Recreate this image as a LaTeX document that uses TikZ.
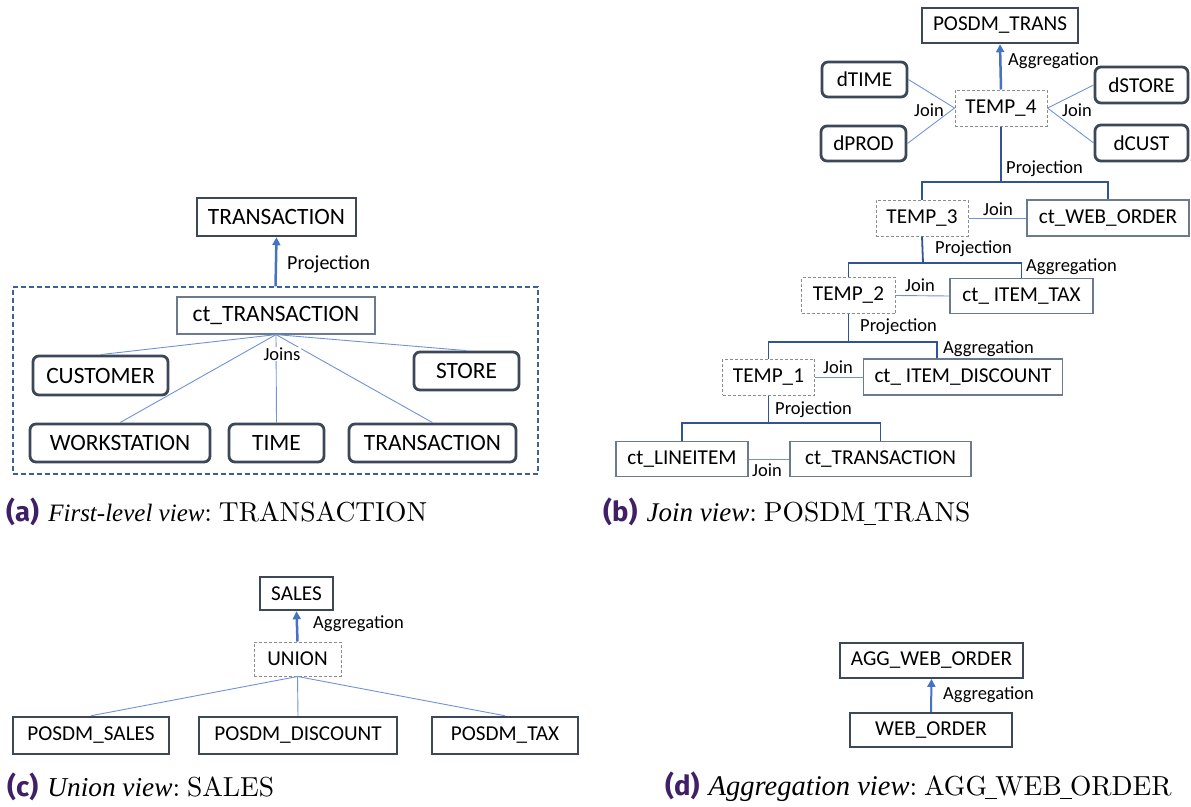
\documentclass[tikz,border=0pt]{standalone}
\usepackage{fontspec}
\newfontfamily\nodefont{Carlito}
\newfontfamily\capsans{Fira Sans}
\newfontfamily\capital{Liberation Serif}
\newfontfamily\capserif[Extension=.otf]{lmroman10-regular}
\usetikzlibrary{arrows.meta}
\definecolor{dk}{HTML}{3C4858}
\definecolor{gr}{HTML}{6B7A8F}
\definecolor{dg}{HTML}{8C8C8C}
\definecolor{ablue}{HTML}{4472C4}
\definecolor{jblue}{HTML}{6F93D6}
\definecolor{pblue}{HTML}{2F5597}
\definecolor{fblue}{HTML}{3F5F9A}
\definecolor{capp}{HTML}{3F1F66}
\tikzset{
 base/.style={draw, inner sep=0pt, text=black, font=\nodefont\fontsize{21.2}{25}\selectfont},
 bigtext/.style={font=\nodefont\fontsize{23.4}{28}\selectfont},
 sharpbox/.style={base, draw=dk, line width=2.5pt},
 roundbox/.style={base, draw=dk, line width=2.8pt, rounded corners=6pt},
 medbox/.style={base, draw=dk, line width=1.8pt},
 thinbox/.style={base, draw=gr, line width=1.2pt},
 dashbox/.style={base, draw=dg, line width=1pt, dash pattern=on 3pt off 2pt},
 lbl/.style={inner sep=0pt, text=black, font=\nodefont\fontsize{18.5}{22}\selectfont},
 arr/.style={-{Triangle[length=8pt,width=8pt]}, line width=2.5pt, draw=ablue},
 jn/.style={draw=jblue, line width=0.9pt},
 pj/.style={draw=pblue, line width=1.8pt},
 capstyle/.style={anchor=west, inner sep=0pt, font=\capserif\fontsize{27.5}{32}\selectfont},
}
\newcommand{\capl}[1]{{\capsans\bfseries\color{capp}(#1)}}
\newcommand{\capit}[2]{{\capital\itshape\fontsize{#1}{32}\selectfont #2}:\hspace{0.25em}}
\newcommand{\cu}{\makebox[0.3em][c]{\rule[-0.12em]{0.44em}{0.04em}}}
\begin{document}
\begin{tikzpicture}[x=1pt,y=-1pt]
\useasboundingbox (0,0) rectangle (1191,806);

% ---------------- (a) ----------------
\node[sharpbox, bigtext, minimum width=159pt, minimum height=38pt] (aT) at (276.5,217) {TRANSACTION};
\node[base, draw=fblue, line width=1.2pt, dash pattern=on 5pt off 3pt, minimum width=525pt, minimum height=187pt] (aF) at (275.5,380.5) {};
\draw[arr] (aF.north) -- (aT.south);
\node[lbl, anchor=west, font=\nodefont\fontsize{20}{24}\selectfont] (aP) at (287,264) {Projection};
\node[thinbox, bigtext, minimum width=198pt, minimum height=37pt] (actT) at (276,315.5) {ct\_TRANSACTION};
\node[roundbox, bigtext, minimum width=135pt, minimum height=39pt] (aCu) at (100.5,375.5) {CUSTOMER};
\node[roundbox, bigtext, minimum width=105pt, minimum height=38pt] (aSt) at (466.5,371) {STORE};
\node[roundbox, bigtext, minimum width=180pt, minimum height=38pt] (aWo) at (120,443) {WORKSTATION};
\node[roundbox, bigtext, minimum width=95pt, minimum height=38pt] (aTi) at (276.5,443) {TIME};
\node[roundbox, bigtext, minimum width=167pt, minimum height=38pt] (aTr) at (432.5,443) {TRANSACTION};
\foreach \n in {aCu,aSt,aWo,aTi,aTr} \draw[jn] (actT.south) -- (\n.north);
\node[lbl, fill=white, inner sep=1pt] (aJ) at (282,354) {Joins};

% ---------------- (b) ----------------
\node[sharpbox, minimum width=156pt, minimum height=35pt] (bPT) at (1000,25.5) {POSDM\_TRANS};
\node[dashbox, minimum width=92pt, minimum height=36pt] (bT4) at (1001,108) {TEMP\_4};
\draw[arr] (bT4.north) -- (bPT.south);
\node[lbl, anchor=west] (bA1) at (1008,61) {Aggregation};
\node[roundbox, minimum width=85pt, minimum height=35pt] (bdT) at (864.5,79.5) {dTIME};
\node[roundbox, minimum width=85pt, minimum height=35pt] (bdP) at (863.5,143.5) {dPROD};
\node[roundbox, minimum width=93pt, minimum height=36pt] (bdS) at (1141.5,85) {dSTORE};
\node[roundbox, minimum width=93pt, minimum height=36pt] (bdC) at (1141.5,143) {dCUST};
\draw[jn] (bdT.east) -- (bT4.west);
\draw[jn] (bdP.east) -- (bT4.west);
\draw[jn] (bdS.west) -- (bT4.east);
\draw[jn] (bdC.west) -- (bT4.east);
\node[lbl] (bJ1) at (929,110) {Join};
\node[lbl] (bJ2) at (1077,110) {Join};

\node[dashbox, minimum width=92pt, minimum height=36pt] (bT3) at (922,218) {TEMP\_3};
\node[thinbox, minimum width=162pt, minimum height=36pt] (bWO) at (1108,218) {ct\_WEB\_ORDER};
\coordinate (bb1) at (1001,182);
\draw[pj] (bT4.south) -- (bb1);
\draw[pj] (bT3.north) |- (bWO.north |- bb1) -- (bWO.north);
\node[lbl, anchor=west] (bP1) at (1006,169) {Projection};
\draw[jn] (bT3.east) -- (bWO.west);
\node[lbl] (bJ3) at (998,209) {Join};

\node[dashbox, minimum width=94pt, minimum height=36pt] (bT2) at (848.5,295.5) {TEMP\_2};
\node[thinbox, minimum width=143pt, minimum height=35pt] (bTX) at (1021.5,296) {ct\_ ITEM\_TAX};
\coordinate (bb2) at (923,263);
\draw[pj] (bT3.south) -- (bb2);
\draw[pj] (bT2.north) |- (bTX.north |- bb2) -- (bTX.north);
\node[lbl, anchor=west] (bP2) at (935,249) {Projection};
\node[lbl, anchor=west] (bA2) at (1026,267) {Aggregation};
\draw[jn] (bT2.east) -- (bTX.west);
\node[lbl] (bJ4) at (920,285) {Join};

\node[dashbox, minimum width=92pt, minimum height=36pt] (bT1) at (768.5,377) {TEMP\_1};
\node[thinbox, minimum width=199pt, minimum height=36pt] (bDI) at (963,377) {ct\_ ITEM\_DISCOUNT};
\coordinate (bb3) at (848.5,342);
\coordinate (bDIin) at ([xshift=-26pt]bDI.north);
\draw[pj] (bT2.south) -- (bb3);
\draw[pj] (bT1.north) |- (bDIin |- bb3) -- (bDIin);
\node[lbl, anchor=west] (bP3) at (860,327) {Projection};
\node[lbl, anchor=west] (bA3) at (943,349) {Aggregation};
\draw[jn] (bT1.east) -- (bDI.west);
\node[lbl] (bJ5) at (838,367) {Join};

\node[thinbox, minimum width=132pt, minimum height=35pt] (bLI) at (682,459) {ct\_LINEITEM};
\node[thinbox, minimum width=181pt, minimum height=35pt] (bTR) at (880.5,459) {ct\_TRANSACTION};
\coordinate (bb4) at (768.5,423);
\draw[pj] (bT1.south) -- (bb4);
\draw[pj] (bLI.north) |- (bTR.north |- bb4) -- (bTR.north);
\node[lbl, anchor=west] (bP4) at (775,410) {Projection};
\draw[jn] (bLI.east) -- (bTR.west);
\node[lbl] (bJ6) at (767,470) {Join};

% ---------------- (c) ----------------
\node[sharpbox, minimum width=73pt, minimum height=33pt] (cS) at (296.5,593.5) {SALES};
\node[dashbox, minimum width=87pt, minimum height=34pt] (cU) at (297.5,659) {UNION};
\draw[arr] (cU.north) -- (cS.south);
\node[lbl, anchor=west] (cA) at (313,624) {Aggregation};
\node[sharpbox, minimum width=156pt, minimum height=37pt] (cPS) at (91,735.5) {POSDM\_SALES};
\node[sharpbox, minimum width=198pt, minimum height=37pt] (cPD) at (298,735.5) {POSDM\_DISCOUNT};
\node[sharpbox, minimum width=146pt, minimum height=37pt] (cPT) at (505,735.5) {POSDM\_TAX};
\foreach \n in {cPS,cPD,cPT} \draw[jn] (cU.south) -- (\n.north);

% ---------------- (d) ----------------
\node[medbox, minimum width=183pt, minimum height=35pt] (dA) at (931.5,660.5) {AGG\_WEB\_ORDER};
\node[medbox, minimum width=162pt, minimum height=34pt] (dW) at (931,730) {WEB\_ORDER};
\draw[arr, line width=2pt] (dW.north) -- (dA.south);
\node[lbl, anchor=west] (dL) at (943,695) {Aggregation};

% ---------------- captions ----------------
\node[capstyle] (capA) at (6,512) {\capl{a} \capit{25}{First-level view}TRANSACTION};
\node[capstyle] (capB) at (603,512) {\capl{b} \capit{27}{Join view}POSDM\cu TRANS};
\node[capstyle] (capC) at (7,787) {\capl{c} \capit{27.3}{Union view}SALES};
\node[capstyle] (capD) at (665,787) {\capl{d} \capit{28.5}{Aggregation view}AGG\cu WEB\cu ORDER};
\end{tikzpicture}
\end{document}
